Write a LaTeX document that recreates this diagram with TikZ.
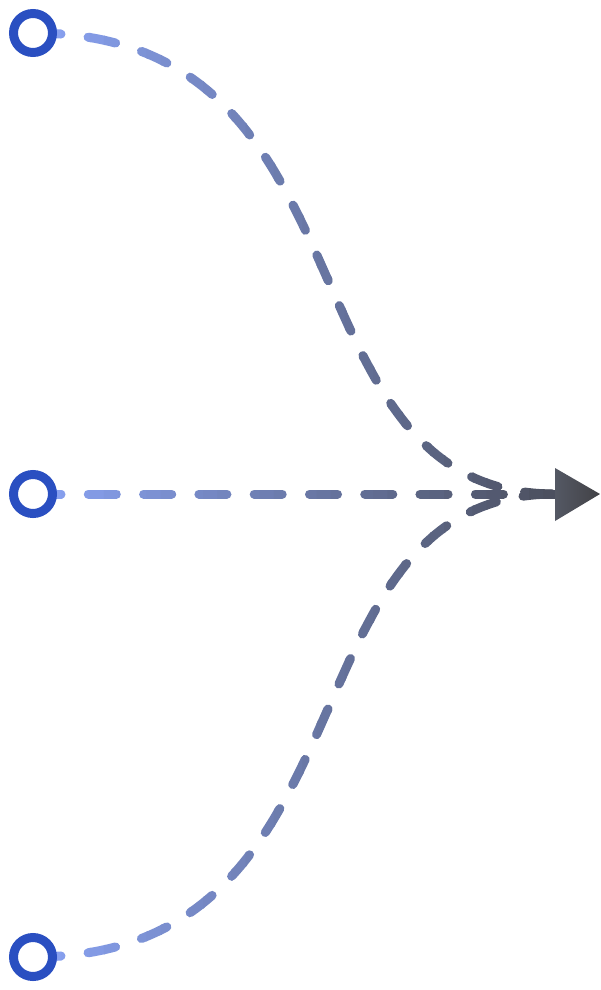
\documentclass[tikz,border=0pt]{standalone}
\pgfdeclarelayer{bg}
\pgfsetlayers{bg,main}
\definecolor{lightline}{RGB}{138,164,246}
\definecolor{darkline}{RGB}{70,72,80}
\definecolor{ringblue}{HTML}{2A4FC1}
\definecolor{arrowL}{RGB}{84,88,100}
\definecolor{arrowR}{RGB}{66,66,70}
\begin{document}
\begin{tikzpicture}[x=1pt,y=-1pt,
  ring/.style={circle, draw=ringblue, line width=9pt, fill=white, minimum size=39pt, inner sep=0pt},
  flow/.style={line width=9pt, line cap=round, dash pattern=on 28pt off 27.3pt, shorten >=45pt}]
\useasboundingbox (0,0) rectangle (600,990);
\node[ring] (s1) at (33,33) {};
\node[ring] (s2) at (33,494) {};
\node[ring] (s3) at (33,957) {};
\coordinate (tip) at (600,494);
\coordinate (ab1) at (555,468);
\coordinate (ab2) at (555,521);
\begin{pgfonlayer}{bg}
\foreach \i in {0,...,39}{
  \pgfmathsetmacro\xa{\i==0 ? 0 : 33+\i*14.175}
  \pgfmathsetmacro\xb{\i==39 ? 600 : 33+(\i+1)*14.175+1.5}
  \pgfmathtruncatemacro\p{round(100*(\i+0.5)/40)}
  \begin{scope}
    \clip (\xa,-10) rectangle (\xb,1000);
    \draw[flow, draw=darkline!\p!lightline] (s1.center) .. controls (385,33) and (274,494) .. (tip);
    \draw[flow, draw=darkline!\p!lightline] (s2.center) -- (tip);
    \draw[flow, draw=darkline!\p!lightline] (s3.center) .. controls (385,957) and (274,494) .. (tip);
  \end{scope}
}
\end{pgfonlayer}
\shade[left color=arrowL, right color=arrowR] (ab1) -- (tip) -- (ab2) -- cycle;
\end{tikzpicture}
\end{document}
